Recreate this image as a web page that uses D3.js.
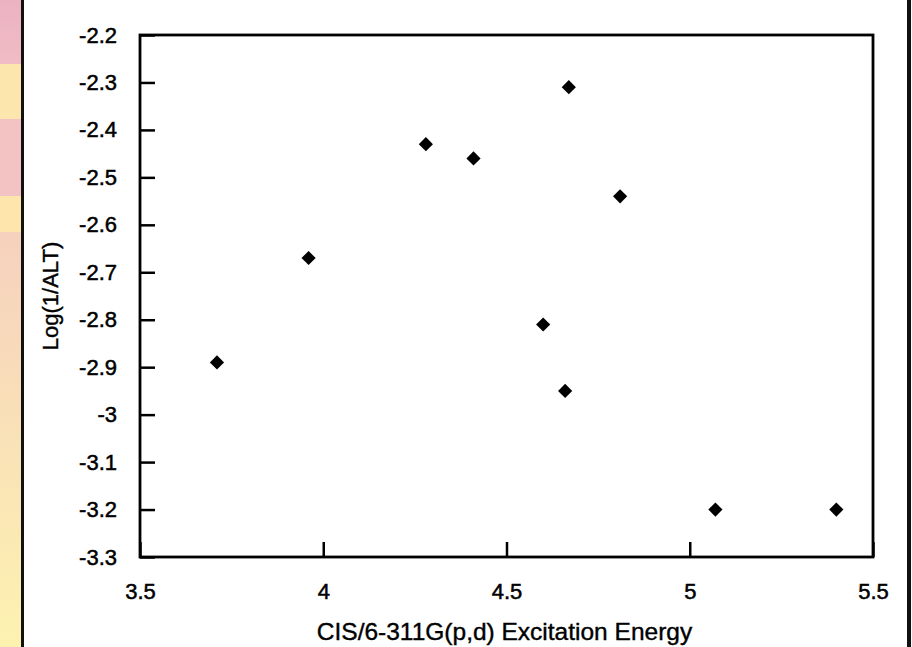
<!DOCTYPE html>
<html><head><meta charset="utf-8">
<script src="https://cdn.jsdelivr.net/npm/d3@7"></script>
<style>body{margin:0;background:#fff}svg{display:block}</style>
</head><body>
<script>
// Data
const energy = [3.71, 3.96, 4.28, 4.41, 4.67, 4.81, 4.60, 4.66, 5.07, 5.40];
const logInvALT = [-2.89, -2.67, -2.43, -2.46, -2.31, -2.54, -2.81, -2.95, -3.20, -3.20];
const xTicks = [3.5, 4, 4.5, 5, 5.5];
const xTickLabels = ["3.5", "4", "4.5", "5", "5.5"];
const yTicks = [-2.2, -2.3, -2.4, -2.5, -2.6, -2.7, -2.8, -2.9, -3.0, -3.1, -3.2, -3.3];
const yTickLabels = ["-2.2", "-2.3", "-2.4", "-2.5", "-2.6", "-2.7", "-2.8", "-2.9", "-3", "-3.1", "-3.2", "-3.3"];
const xTitle = "CIS/6-311G(p,d) Excitation Energy";
const yTitle = "Log(1/ALT)";

const W = 912, H = 647;
const svg = d3.select("body").append("svg").attr("width", W).attr("height", H);

// decorative page strip on the left
const defs = svg.append("defs");
const g1 = defs.append("linearGradient").attr("id","stripGrad").attr("x1",0).attr("y1",0).attr("x2",0).attr("y2",1);
g1.append("stop").attr("offset","0%").attr("stop-color","#f6d1be");
g1.append("stop").attr("offset","100%").attr("stop-color","#fdf2b0");
const g0 = defs.append("linearGradient").attr("id","pinkGrad").attr("x1",0).attr("y1",0).attr("x2",0).attr("y2",1);
g0.append("stop").attr("offset","0%").attr("stop-color","#ebb2c3");
g0.append("stop").attr("offset","100%").attr("stop-color","#f1bcc4");
svg.append("rect").attr("x",0).attr("y",0).attr("width",21).attr("height",64).attr("fill","url(#pinkGrad)");
svg.append("rect").attr("x",0).attr("y",64).attr("width",21).attr("height",55).attr("fill","#fde6ae");
svg.append("rect").attr("x",0).attr("y",119).attr("width",21).attr("height",77).attr("fill","#f3c2c3");
svg.append("rect").attr("x",0).attr("y",196).attr("width",21).attr("height",36).attr("fill","#fde5ab");
svg.append("rect").attr("x",0).attr("y",232).attr("width",21).attr("height",H-232).attr("fill","url(#stripGrad)");
svg.append("rect").attr("x",21).attr("y",0).attr("width",3).attr("height",H).attr("fill","#111");
svg.append("rect").attr("x",907).attr("y",0).attr("width",4).attr("height",H).attr("fill","#111");

const L = 140, R = 873, T = 35, B = 557;
const x = d3.scaleLinear().domain([3.5, 5.5]).range([L, R]);
const y = d3.scaleLinear().domain([-2.2, -3.3]).range([T, B]);

const font = "'Liberation Sans', Arial, Helvetica, sans-serif";

const yAxis = d3.axisLeft(y).tickValues(yTicks)
  .tickFormat((d,i) => yTickLabels[i]).tickSizeInner(-15).tickSizeOuter(0).tickPadding(23);
const gy = svg.append("g").attr("transform", `translate(${L},0)`).call(yAxis);
gy.select(".domain").remove();
gy.selectAll(".tick line").attr("stroke","#000").attr("stroke-width",2.5);
gy.selectAll(".tick text").attr("font-family", font).attr("font-size", 22).attr("fill","#000")
  .attr("stroke","#000").attr("stroke-width",0.5);

const xAxis = d3.axisBottom(x).tickValues(xTicks)
  .tickFormat((d,i) => xTickLabels[i]).tickSizeInner(-15).tickSizeOuter(0).tickPadding(26);
const gx = svg.append("g").attr("transform", `translate(0,${B})`).call(xAxis);
gx.select(".domain").remove();
gx.selectAll(".tick line").attr("stroke","#000").attr("stroke-width",2.5);
gx.selectAll(".tick text").attr("font-family", font).attr("font-size", 22).attr("fill","#000")
  .attr("stroke","#000").attr("stroke-width",0.5);

// plot frame
svg.append("rect").attr("x", L).attr("y", T).attr("width", R-L).attr("height", B-T)
  .attr("fill","none").attr("stroke","#000").attr("stroke-width",2.8);

// points (diamonds)
const sym = d3.symbol().type(d3.symbolDiamond2).size(128);
svg.append("g").selectAll("path").data(energy.map((e,i)=>[e, logInvALT[i]])).join("path")
  .attr("transform", d => `translate(${x(d[0])},${y(d[1])})`)
  .attr("d", sym).attr("fill","#000");

// titles
svg.append("text").attr("x", (L+R)/2 - 2).attr("y", 640).attr("text-anchor","middle")
  .attr("font-family", font).attr("font-size", 24.5).attr("fill","#000")
  .attr("stroke","#000").attr("stroke-width",0.4).text(xTitle);
svg.append("text").attr("transform", `translate(58,${(T+B)/2}) rotate(-90)`).attr("text-anchor","middle")
  .attr("font-family", font).attr("font-size", 22).attr("fill","#000")
  .attr("stroke","#000").attr("stroke-width",0.4).text(yTitle);
</script>
</body></html>
